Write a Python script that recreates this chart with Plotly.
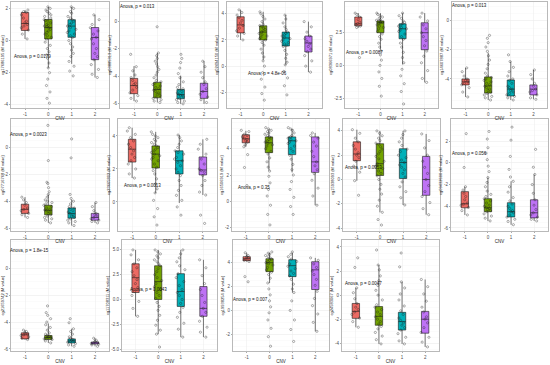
import plotly.graph_objects as go

# ---------------- data ----------------
GROUPS = [-1, 0, 1, 2]
GROUP_LABELS = ["-1", "0", "1", "2"]
COLORS = ["#EC6A63", "#72A300", "#00B0B8", "#BE72F5"]

PROBES = ["cg17686195", "cg03885313", "cg02494150", "cg08366971", "cg14607887",
          "cg07716768", "cg23665802", "cg16506919", "cg15938093", "cg09432600",
          "cg21659742", "cg11708311", "cg19938254", "cg24583067"]
PVALUES = ["0.0179", "0.013", "4.8e-06", "0.0087", "0.013",
           "0.0023", "0.0013", "0.35", "0.0053", "0.056",
           "1.8e-15", "0.0043", "0.007", "0.0047"]

# box statistics, one list per panel, one value per CNV group (-1, 0, 1, 2)
Q1 = [[0.63, 0.1, 0.2, -1.19], [-5.26, -5.56, -5.63, -5.6], [2.54, 2.0, 1.54, 1.08],
      [3.03, 2.5, 2.04, 1.2], [-4.41, -4.97, -5.17, -5.1],
      [-4.9, -5.0, -5.25, -5.4], [2.42, 2.06, 1.7, 1.64], [4.45, 3.7, 3.55, 2.2],
      [1.55, 0.33, 0.08, -1.3], [-4.14, -4.5, -4.98, -5.07],
      [-5.25, -5.3, -5.55, -5.63], [0.7, 0.0, -0.7, -1.7], [4.17, 3.25, 2.83, 1.75],
      [-1.93, -2.5, -2.9, -3.16]]
MEDIAN = [[1.06, 0.81, 0.9, 0.19], [-4.67, -4.96, -5.33, -5.1], [3.15, 2.6, 2.15, 1.77],
          [3.18, 3.26, 2.8, 2.5], [-4.2, -4.48, -4.7, -4.7],
          [-4.6, -4.67, -4.9, -5.2], [3.2, 2.9, 2.5, 1.94], [4.75, 4.45, 4.6, 3.0],
          [2.1, 1.3, 1.4, 0.0], [-3.77, -4.14, -4.5, -4.6],
          [-4.95, -5.15, -5.4, -5.55], [2.2, 1.8, 0.8, -0.9], [4.33, 4.0, 3.75, 3.4],
          [-1.35, -1.76, -2.2, -2.0]]
Q3 = [[1.75, 1.31, 1.3, 0.81], [-4.15, -4.44, -4.96, -4.5], [3.77, 3.08, 2.6, 2.3],
      [3.7, 3.4, 3.18, 3.26], [-4.0, -3.86, -4.07, -4.41],
      [-4.22, -4.3, -4.5, -4.9], [3.8, 3.4, 3.1, 2.73], [5.06, 4.9, 4.9, 4.9],
      [3.1, 2.94, 2.53, 1.9], [-2.65, -3.3, -3.67, -3.4],
      [-4.8, -5.0, -5.25, -5.48], [3.6, 3.4, 2.6, 1.3], [4.5, 4.33, 4.25, 4.08],
      [-0.69, -0.95, -1.43, -1.35]]
LOWER = [[0.1, -1.7, -1.45, -2.3], [-5.8, -5.9, -6.0, -6.0], [2.0, 0.46, 0.1, -0.46],
         [2.88, 1.2, 0.07, -1.3], [-5.24, -5.45, -5.45, -5.4],
         [-5.2, -5.6, -5.8, -5.6], [1.45, 0.55, -0.06, 0.42], [4.15, 2.34, 2.2, -0.3],
         [-0.1, -2.7, -2.1, -2.9], [-4.8, -5.35, -5.7, -5.35],
         [-5.3, -5.55, -5.8, -5.8], [-1.7, -3.5, -3.8, -3.8], [4.08, 2.3, 1.5, -1.75],
         [-2.67, -4.05, -4.05, -4.3]]
UPPER = [[1.9, 2.1, 2.1, 1.6], [-3.26, -2.3, -3.95, -2.9], [4.3, 4.15, 3.9, 3.4],
         [4.0, 4.0, 4.0, 4.0], [-3.24, -2.2, -2.8, -3.38],
         [-3.7, -3.5, -3.9, -4.1], [4.5, 4.25, 4.06, 3.8], [5.36, 5.5, 5.5, 5.2],
         [4.1, 4.0, 4.0, 3.75], [-2.2, -1.35, -1.7, -1.07],
         [-4.6, -4.1, -4.5, -5.2], [5.0, 5.0, 5.0, 4.0], [4.83, 4.83, 4.83, 4.4],
         [0.6, 2.5, 1.1, 1.3]]

# individual samples (panel -> group -> values)
POINTS = [
    [[1.9, 1.8, 1.75, 1.6, 1.4, 1.2, 1.1, 1.0, 0.9, 0.8, 0.65, 0.4, 0.1],
     [2.1, 2.0, 1.9, 1.8, 1.7, 1.6, 1.5, 1.4, 1.3, 1.25, 1.2, 1.1, 1.0, 0.95, 0.9, 0.85, 0.8, 0.7, 0.6,
      0.5, 0.4, 0.3, 0.2, 0.1, -0.1, -0.3, -0.5, -0.7, -0.9, -1.1, -1.4, -1.7, -2.0, -2.4, -2.8, -3.2, -3.6, -3.9],
     [2.1, 2.0, 1.8, 1.7, 1.5, 1.4, 1.3, 1.2, 1.1, 1.0, 0.9, 0.8, 0.7, 0.6, 0.5, 0.4, 0.3, 0.2, 0.0,
      -0.2, -0.4, -0.6, -0.8, -1.0, -1.3, -1.6, -1.9, -2.2],
     [1.6, 1.3, 1.0, 0.8, 0.6, 0.4, 0.2, 0.1, -0.2, -0.5, -0.8, -1.0, -1.2, -1.5, -1.8, -2.1, -2.3]],
    [[-2.4, -3.3, -3.6, -3.9, -4.1, -4.3, -4.5, -4.6, -4.8, -5.0, -5.2, -5.4, -5.6, -5.8],
     [-0.4, -2.3, -2.5, -2.7, -2.9, -3.1, -3.3, -3.5, -3.7, -3.9, -4.1, -4.3, -4.4, -4.5, -4.6, -4.7,
      -4.8, -4.9, -5.0, -5.1, -5.2, -5.3, -5.4, -5.5, -5.6, -5.7, -5.8, -5.9],
     [-2.4, -2.7, -3.0, -3.4, -3.8, -4.1, -4.4, -4.6, -4.8, -4.9, -5.0, -5.1, -5.2, -5.3, -5.35, -5.4,
      -5.5, -5.6, -5.7, -5.8, -5.9, -6.0],
     [-2.9, -3.3, -3.7, -4.1, -4.4, -4.6, -4.9, -5.1, -5.3, -5.5, -5.7, -5.9]],
    [[4.3, 4.1, 3.9, 3.7, 3.5, 3.3, 3.1, 2.9, 2.7, 2.5, 2.3, 2.0],
     [4.15, 4.0, 3.8, 3.6, 3.4, 3.2, 3.1, 3.0, 2.9, 2.8, 2.7, 2.6, 2.5, 2.4, 2.3, 2.2, 2.1, 2.0, 1.8,
      1.6, 1.3, 1.0, 0.7, 0.4, 0.0, -0.5, -1.0, -1.6, -2.1, -2.6],
     [3.9, 3.6, 3.3, 3.0, 2.8, 2.6, 2.5, 2.4, 2.3, 2.2, 2.1, 2.0, 1.9, 1.8, 1.7, 1.6, 1.5, 1.2, 0.9,
      0.6, 0.3, 0.1, -0.4, -0.9, -1.5, -2.2],
     [3.4, 3.0, 2.6, 2.3, 2.1, 1.9, 1.7, 1.5, 1.3, 1.1, 0.8, 0.4, 0.0, -0.46]],
    [[4.0, 3.9, 3.7, 3.5, 3.3, 3.2, 3.1, 3.0, 2.9, 0.6],
     [4.0, 3.9, 3.8, 3.7, 3.6, 3.5, 3.45, 3.4, 3.35, 3.3, 3.25, 3.2, 3.1, 3.0, 2.9, 2.8, 2.6, 2.4,
      2.2, 2.0, 1.7, 1.4, 1.1, 0.8, 0.4, 0.0, -0.5, -1.0, -1.6, -2.35],
     [4.0, 3.8, 3.6, 3.4, 3.3, 3.2, 3.1, 3.0, 2.9, 2.8, 2.7, 2.6, 2.4, 2.2, 2.0, 1.7, 1.4, 1.0, 0.6,
      0.2, -0.3, -0.8, -1.4, -2.0, -2.95],
     [4.0, 3.7, 3.4, 3.1, 2.8, 2.5, 2.2, 1.9, 1.5, 1.1, 0.7, 0.2, -0.4, -1.0, -1.3]],
    [[-3.24, -3.5, -3.8, -4.0, -4.1, -4.2, -4.3, -4.4, -4.6, -4.9, -5.24],
     [-1.0, -1.2, -1.5, -1.8, -2.1, -2.4, -2.7, -3.0, -3.3, -3.6, -3.8, -3.9, -4.0, -4.1, -4.2, -4.3,
      -4.4, -4.5, -4.6, -4.7, -4.8, -4.9, -5.0, -5.1, -5.2, -5.3, -5.45],
     [-2.34, -2.8, -3.2, -3.5, -3.8, -4.0, -4.1, -4.3, -4.5, -4.6, -4.7, -4.8, -4.9, -5.0, -5.1, -5.2,
      -5.3, -5.45],
     [-3.38, -3.7, -4.0, -4.3, -4.5, -4.7, -4.8, -4.9, -5.1, -5.3, -5.4]],
    [[-3.7, -3.9, -4.1, -4.3, -4.5, -4.6, -4.7, -4.9, -5.0, -5.2],
     [1.6, -1.0, -2.6, -2.7, -3.0, -3.3, -3.5, -3.7, -3.9, -4.0, -4.1, -4.2, -4.3, -4.4, -4.5, -4.6,
      -4.65, -4.7, -4.8, -4.9, -5.0, -5.1, -5.2, -5.3, -5.4, -5.6],
     [0.6, -0.8, -3.5, -3.8, -4.0, -4.2, -4.4, -4.5, -4.6, -4.7, -4.8, -4.9, -5.0, -5.1, -5.2, -5.3,
      -5.4, -5.5, -5.6, -5.8],
     [-4.1, -4.4, -4.7, -4.9, -5.0, -5.1, -5.2, -5.3, -5.4, -5.5, -5.6]],
    [[4.5, 4.3, 4.1, 3.9, 3.7, 3.5, 3.3, 3.1, 2.9, 2.7, 2.5, 2.3, 2.0, 1.7, 1.45],
     [4.25, 4.1, 4.0, 3.9, 3.8, 3.7, 3.6, 3.5, 3.4, 3.3, 3.2, 3.1, 3.0, 2.9, 2.8, 2.7, 2.6, 2.5, 2.3,
      2.1, 1.9, 1.7, 1.4, 1.1, 0.8, 0.55, 0.1, -0.4, -0.9, -1.4],
     [4.06, 3.9, 3.7, 3.5, 3.3, 3.1, 3.0, 2.9, 2.7, 2.6, 2.5, 2.4, 2.2, 2.0, 1.8, 1.6, 1.3, 1.0, 0.7,
      0.4, 0.1, -0.3, -0.8],
     [3.8, 3.5, 3.2, 2.9, 2.6, 2.3, 2.0, 1.9, 1.8, 1.6, 1.3, 1.0, 0.6, 0.42, -0.8, -1.3]],
    [[5.4, 5.3, 5.1, 5.0, 4.9, 4.8, 4.7, 4.6, 4.5, 4.3, 4.15, 3.55, 2.57, 1.2],
     [5.6, 5.5, 5.4, 5.3, 5.2, 5.1, 5.0, 4.9, 4.8, 4.7, 4.6, 4.5, 4.4, 4.3, 4.2, 4.0, 3.8, 3.6, 3.3,
      3.0, 2.6, 2.3, 1.9, 1.4, 0.9, 0.4, -0.3, -1.0, -1.8],
     [5.6, 5.5, 5.4, 5.2, 5.0, 4.9, 4.8, 4.7, 4.6, 4.5, 4.4, 4.2, 4.0, 3.8, 3.5, 3.2, 2.8, 2.4, 2.0,
      1.5, 0.9, 0.3, -0.4, -1.0],
     [5.2, 5.0, 4.8, 4.5, 4.2, 3.8, 3.4, 3.0, 2.7, 2.4, 2.1, 1.6, 1.0, 0.4, -0.3]],
    [[4.1, 3.8, 3.4, 3.1, 2.8, 2.5, 2.2, 2.0, 1.8, 1.5, 1.1, 0.6, -0.1, -1.3],
     [4.0, 3.8, 3.6, 3.4, 3.2, 3.0, 2.9, 2.7, 2.5, 2.3, 2.1, 1.9, 1.7, 1.5, 1.3, 1.1, 0.9, 0.7, 0.5,
      0.3, 0.0, -0.4, -0.8, -1.2, -1.7, -2.2, -2.7, -3.3, -3.75],
     [4.0, 3.7, 3.4, 3.1, 2.8, 2.5, 2.3, 2.0, 1.8, 1.6, 1.4, 1.2, 1.0, 0.8, 0.5, 0.2, -0.2, -0.6,
      -1.0, -1.5, -2.1],
     [3.75, 3.2, 2.6, 2.0, 1.5, 1.0, 0.5, 0.0, -0.5, -1.0, -1.4, -1.9, -2.4, -2.9]],
    [[2.7, -0.42, -2.2, -2.5, -2.8, -3.1, -3.4, -3.7, -3.8, -3.9, -4.1, -4.4, -4.8],
     [2.9, 2.2, 1.4, 0.9, 0.3, -0.3, -0.8, -1.35, -1.8, -2.2, -2.6, -2.9, -3.1, -3.3, -3.5, -3.7,
      -3.9, -4.0, -4.1, -4.2, -4.3, -4.4, -4.5, -4.7, -4.9, -5.1, -5.35],
     [3.3, 2.1, 0.6, -0.6, -1.3, -1.7, -2.2, -2.7, -3.2, -3.5, -3.8, -4.0, -4.2, -4.4, -4.5, -4.6,
      -4.8, -5.0, -5.2, -5.4, -5.7],
     [1.25, -0.4, -1.07, -2.0, -2.8, -3.4, -3.9, -4.3, -4.6, -4.8, -5.0, -5.2, -5.35]],
    [[-4.6, -4.7, -4.8, -4.9, -4.95, -5.0, -5.1, -5.2, -5.3],
     [-2.8, -3.3, -3.5, -3.75, -4.0, -4.2, -4.4, -4.6, -4.8, -4.9, -5.0, -5.05, -5.1, -5.15, -5.2,
      -5.25, -5.3, -5.4, -5.55],
     [-3.75, -4.05, -4.5, -4.7, -4.9, -5.1, -5.2, -5.3, -5.35, -5.4, -5.45, -5.5, -5.6, -5.7, -5.8],
     [-5.2, -5.35, -5.45, -5.5, -5.55, -5.6, -5.65, -5.7, -5.8]],
    [[5.0, 4.5, 4.0, 3.6, 3.2, 2.8, 2.4, 2.0, 1.6, 1.2, 0.8, 0.4, -0.2, -0.9, -1.7],
     [5.0, 4.8, 4.6, 4.4, 4.2, 4.0, 3.8, 3.6, 3.4, 3.1, 2.8, 2.5, 2.2, 1.9, 1.6, 1.3, 1.0, 0.7, 0.4,
      0.1, -0.3, -0.7, -1.1, -1.6, -2.1, -2.6, -3.1, -3.5, -4.8],
     [5.0, 4.6, 4.2, 3.8, 3.4, 3.0, 2.6, 2.2, 1.8, 1.4, 1.0, 0.7, 0.4, 0.0, -0.4, -0.8, -1.3, -1.8,
      -2.4, -3.0, -3.8],
     [4.0, 3.2, 2.4, 1.6, 1.0, 0.4, -0.3, -0.9, -1.3, -1.7, -2.2, -2.8, -3.3, -3.8]],
    [[4.83, 4.6, 4.5, 4.4, 4.3, 4.2, 4.1, 2.83, 2.4],
     [4.9, 4.8, 4.7, 4.6, 4.5, 4.4, 4.3, 4.2, 4.1, 4.0, 3.9, 3.8, 3.6, 3.4, 3.2, 3.0, 2.7, 2.3, 1.8,
      1.3, 0.8, 0.3, -0.2, -0.8, -1.5, -2.2, -3.0],
     [4.9, 4.7, 4.5, 4.3, 4.1, 3.9, 3.7, 3.5, 3.3, 3.1, 2.9, 2.6, 2.2, 1.8, 1.5, 0.8, 0.0, -0.8,
      -1.6, -2.6],
     [4.4, 4.2, 3.9, 3.6, 3.3, 3.0, 2.6, 2.1, 1.6, 1.0, 0.4, -0.3, -1.0, -1.75]],
    [[3.1, 2.3, 0.6, 0.2, -0.3, -0.7, -1.0, -1.2, -1.4, -1.6, -1.9, -2.2, -2.67],
     [3.75, 2.5, 2.1, 1.6, 1.2, 0.8, 0.4, 0.0, -0.4, -0.8, -1.0, -1.2, -1.4, -1.6, -1.8, -2.0, -2.2,
      -2.4, -2.6, -2.8, -3.1, -3.4, -3.7, -4.05],
     [3.5, 2.35, 1.1, 0.6, 0.1, -0.4, -0.9, -1.3, -1.6, -1.9, -2.1, -2.3, -2.5, -2.7, -2.9, -3.2,
      -3.5, -3.8, -4.05],
     [1.3, 0.7, 0.1, -0.5, -1.0, -1.4, -1.8, -2.0, -2.3, -2.7, -3.1, -3.5, -3.9, -4.3]],
]

YTICKS = [[2, 0, -2, -4], [0, -2, -4, -6], [4, 2, 0, -2], [2.5, 0.0, -2.5], [0, -2, -4],
          [0, -2, -4, -6], [4, 2, 0], [4, 2, 0, -2], [4, 2, 0, -2, -4], [2, 0, -2, -4, -6],
          [0, -2, -4, -6], [5.0, 2.5, 0.0, -2.5, -5.0], [4, 2, 0, -2], [4, 2, 0, -2, -4]]
YTICK_DECIMALS = [0, 0, 0, 1, 0, 0, 0, 0, 0, 0, 0, 1, 0, 0]
YRANGE = [[-4.2, 2.4], [-6.3, 1.4], [-3.2, 4.9], [-3.26, 4.85], [-6.0, 1.3],
          [-6.2, 2.07], [-1.76, 5.03], [-2.26, 6.26], [-4.24, 4.98], [-6.28, 4.05],
          [-6.15, 2.1], [-5.2, 6.0], [-3.4, 5.9], [-4.64, 4.58]]
ANNOT_X = [-0.7, -0.83, 0.2, -0.7, -0.83, -0.83, -0.58, -0.66, -0.7, -0.78, -0.79, -0.43, -0.83, -0.65]
ANNOT_Y = [-1.0, 1.1, -0.54, 1.0, 1.03, 0.9, 0.97, 1.05, 1.0, 0.88, 1.35, 1.0, 0.9, 0.95]

# ---------------- layout (pixel boxes of each panel) ----------------
W, H = 550, 365
PANEL_PX = [  # left, right, top, bottom
    (11, 109, 2, 108), (120, 218, 2, 108), (227, 322, 2, 108), (345, 438, 2, 108), (452, 547, 2, 108),
    (11, 109, 119, 231), (118, 217, 119, 231), (232, 329, 119, 231), (343, 440, 119, 231), (451, 548, 119, 231),
    (11, 109, 240, 351), (122, 217, 240, 351), (233, 329, 240, 351), (342, 439, 240, 351),
]

FONT = "Liberation Sans, Arial, sans-serif"
fig = go.Figure()
layout = dict(width=W, height=H, margin=dict(l=0, r=0, t=0, b=0),
              paper_bgcolor="white", plot_bgcolor="white", showlegend=False,
              boxmode="overlay", font=dict(family=FONT, size=4.5, color="#333"))
annotations = []

for i in range(len(PROBES)):
    n = i + 1
    xa, ya = f"x{n}", f"y{n}"
    l, r, t, b = PANEL_PX[i]
    axis_common = dict(showline=True, mirror=True, linecolor="#8a8a8a", linewidth=0.6,
                       showgrid=True, gridcolor="#ebebeb", gridwidth=0.5, zeroline=False,
                       ticks="outside", ticklen=1.5, tickwidth=0.5, tickcolor="#555",
                       tickfont=dict(size=4.5, color="#4d4d4d"), automargin=False)
    layout[f"xaxis{n}"] = dict(axis_common, domain=[l / W, r / W], anchor=ya,
                               range=[-1.6, 2.6], tickmode="array", tickvals=GROUPS,
                               ticktext=GROUP_LABELS,
                               title=dict(text="CNV", font=dict(size=4.5, color="#222"), standoff=1))
    dec = YTICK_DECIMALS[i]
    ytext = [(f"{v:.{dec}f}").replace("\u2212", "-") for v in YTICKS[i]]
    layout[f"yaxis{n}"] = dict(axis_common, domain=[1 - b / H, 1 - t / H], anchor=xa,
                               range=YRANGE[i], tickmode="array", tickvals=YTICKS[i],
                               ticktext=ytext,
                               minor=dict(showgrid=True, gridcolor="#f4f4f4", gridwidth=0.4),
                               title=dict(text=f"{PROBES[i]} (M value)",
                                          font=dict(size=4, color="#222"), standoff=1))
    for g in range(4):
        fig.add_trace(go.Box(
            x=[GROUPS[g]], q1=[Q1[i][g]], median=[MEDIAN[i][g]], q3=[Q3[i][g]],
            lowerfence=[LOWER[i][g]], upperfence=[UPPER[i][g]],
            xaxis=xa, yaxis=ya, fillcolor=COLORS[g], width=0.32, whiskerwidth=0,
            line=dict(color="#1a1a1a", width=0.6), boxpoints=False,
            hoverinfo="skip", showlegend=False))
    for g in range(4):
        pts = POINTS[i][g]
        fig.add_trace(go.Box(
            x=[GROUPS[g]] * len(pts), y=pts, xaxis=xa, yaxis=ya,
            boxpoints="all", jitter=1, pointpos=0, width=0.42,
            fillcolor="rgba(0,0,0,0)", line=dict(color="rgba(0,0,0,0)", width=0),
            marker=dict(symbol="circle-open", size=2.2, color="rgba(30,30,30,0.7)",
                        line=dict(width=0.5)),
            hoverinfo="skip", showlegend=False))
    annotations.append(dict(x=ANNOT_X[i], y=ANNOT_Y[i], xref=xa, yref=ya,
                            text=f"Anova, p = {PVALUES[i]}", showarrow=False,
                            font=dict(size=4.5, color="#111")))

layout["annotations"] = annotations
fig.update_layout(**layout)
fig.write_html("out.html", config={"displayModeBar": False, "staticPlot": True},
               post_script="document.body.style.margin='0';document.body.style.padding='0';")
